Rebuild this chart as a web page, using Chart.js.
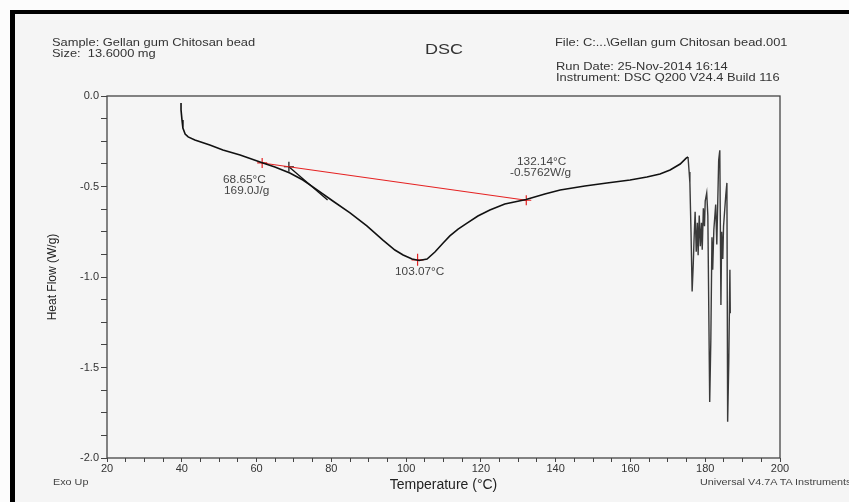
<!DOCTYPE html>
<html>
<head>
<meta charset="utf-8">
<script src="https://cdn.jsdelivr.net/npm/chart.js@4.4.1/dist/chart.umd.min.js"></script>
<style>
  html, body { margin: 0; padding: 0; background: #fcfcfc; }
  #wrap { position: relative; width: 849px; height: 502px; overflow: hidden;
          font-family: 'Liberation Sans', Arial, sans-serif; color: #333; }
  #frame { position: absolute; left: 10px; top: 10px; width: 900px; height: 560px;
           border-top: 4px solid #000; border-left: 5px solid #000; background: #f5f5f5; }
  #chart { position: absolute; left: 0; top: 0; }
  .t { position: absolute; white-space: nowrap; font-size: 11px; line-height: 11px;
       transform: scaleX(1.17); transform-origin: 0 0; }
  .s { font-size: 10px; line-height: 10px; color: #444; transform: scaleX(1.18); }
  .xs { font-size: 9px; line-height: 9px; color: #444; transform: scaleX(1.2); }
</style>
</head>
<body>
<div id="wrap">
  <div id="frame"></div>
  <canvas id="chart" width="849" height="502"></canvas>

  <div class="t" style="left:52px;top:37px">Sample: Gellan gum Chitosan bead</div>
  <div class="t" style="left:52px;top:48px">Size:&nbsp; 13.6000 mg</div>
  <div class="t" style="left:425px;top:41px;font-size:15px;line-height:15px;transform:scaleX(1.2)">DSC</div>
  <div class="t" style="left:555px;top:37px">File: C:...\Gellan gum Chitosan bead.001</div>
  <div class="t" style="left:556px;top:61px">Run Date: 25-Nov-2014 16:14</div>
  <div class="t" style="left:556px;top:72px">Instrument: DSC Q200 V24.4 Build 116</div>

  <div class="t s" style="left:223px;top:175px">68.65°C</div>
  <div class="t s" style="left:224px;top:186px">169.0J/g</div>
  <div class="t s" style="left:395px;top:267px">103.07°C</div>
  <div class="t s" style="left:517px;top:157px">132.14°C</div>
  <div class="t s" style="left:510px;top:168px">-0.5762W/g</div>

  <div class="t xs" style="left:53px;top:478px">Exo Up</div>
  <div class="t xs" style="left:700px;top:478px">Universal V4.7A TA Instruments</div>
</div>

<script>
/* ── fuente y colores base ───────────────────────────────── */
Chart.defaults.font.family = "'Liberation Sans', Arial, sans-serif";
Chart.defaults.font.size   = 11;
Chart.defaults.color       = '#333';

const TEMP = [39.8, 39.8, 40.06, 40.3, 40.9, 41.7, 43.5, 47.5, 51.0, 55.6, 61.7, 64.9, 68.9,
  72.4, 76.2, 80.4, 85.0, 89.5, 93.8, 97.0, 99.2, 101.6, 103.5, 105.6, 107.7, 109.9, 111.7,
  113.9, 116.3, 119.2, 122.4, 126.4, 132.1, 137.1, 141.2, 147.8, 153.7, 159.9, 164.4, 167.9,
  170.6, 173.3, 174.9, 175.4];
const HEAT = [-0.039, -0.077, -0.133, -0.177, -0.21, -0.226, -0.243, -0.271, -0.298, -0.326,
  -0.370, -0.392, -0.425, -0.464, -0.519, -0.580, -0.646, -0.718, -0.796, -0.851, -0.878,
  -0.901, -0.909, -0.901, -0.862, -0.812, -0.773, -0.735, -0.702, -0.663, -0.630, -0.597,
  -0.572, -0.541, -0.519, -0.497, -0.481, -0.464, -0.448, -0.431, -0.409, -0.376, -0.343, -0.337];

// zona de descomposición (ruido)
const NOISE_T = [175.4, 175.7, 175.9, 176.2, 176.5, 176.8, 177.0, 177.3, 177.6, 177.9, 178.1,
  178.4, 178.7, 179.0, 179.2, 179.5, 179.8, 180.0, 180.4, 180.7, 181.2, 181.5, 181.8, 182.0,
  182.3, 182.8, 183.1, 183.6, 183.9, 184.2, 184.4, 184.7, 184.9, 185.5, 185.8, 186.0, 186.3,
  186.6, 186.7];
const NOISE_H = [-0.337, -0.42, -0.48, -0.75, -1.08, -0.93, -0.80, -0.64, -0.86, -0.70, -0.88,
  -0.66, -0.83, -0.70, -0.85, -0.62, -0.72, -0.58, -0.536, -0.66, -1.69, -1.35, -0.78, -0.96,
  -0.74, -0.60, -0.82, -0.354, -0.30, -1.155, -0.75, -0.90, -0.72, -0.547, -0.48, -1.80, -1.47,
  -0.96, -1.20];

// línea base de integración y construcción del onset
const BASE_T    = [61.5, 132.14];
const BASE_H    = [-0.37, -0.576];
const PEAK_T    = [103.07];
const PEAK_H    = [-0.905];
const TANGENT_T = [68.65, 79.0];
const TANGENT_H = [-0.391, -0.575];

const pts = (xs, ys) => xs.map((x, i) => ({ x, y: ys[i] }));

/* ── marco del área de trazado ───────────────────────────── */
const plotBox = {
  id: 'plotBox',
  afterDraw(chart) {
    const { ctx, chartArea: a } = chart;
    ctx.save();
    ctx.strokeStyle = '#444';
    ctx.lineWidth = 1.3;
    ctx.strokeRect(a.left, a.top, a.right - a.left, a.bottom - a.top);
    ctx.restore();
  },
};

new Chart(document.getElementById('chart'), {
  type: 'line',
  data: {
    datasets: [
      { data: pts(TEMP, HEAT), borderColor: '#111', borderWidth: 1.6, pointRadius: 0 },
      { data: pts(NOISE_T, NOISE_H), borderColor: '#3a3a3a', borderWidth: 1.4, pointRadius: 0 },
      { data: pts(BASE_T, BASE_H), borderColor: '#e52222', borderWidth: 1.2,
        pointStyle: 'cross', pointRadius: 5, pointBorderColor: '#e52222', pointBorderWidth: 1.2 },
      { data: pts(PEAK_T, PEAK_H), showLine: false,
        pointStyle: 'cross', pointRadius: 6, pointBorderColor: '#e52222', pointBorderWidth: 1.2 },
      { data: pts(TANGENT_T, TANGENT_H), borderColor: '#111', borderWidth: 1.3,
        pointStyle: 'cross', pointRadius: [5, 0], pointBorderColor: '#111', pointBorderWidth: 1.2 },
    ],
  },
  options: {
    responsive: false, animation: false, devicePixelRatio: 1,
    layout: { padding: { top: 96, right: 69, bottom: 0, left: 0 } },
    plugins: { legend: { display: false }, tooltip: { enabled: false } },
    elements: { line: { tension: 0 } },
    scales: {
      x: {
        type: 'linear', min: 20, max: 200,
        afterFit: s => { s.height = 44; },
        border: { display: false },
        grid: { drawOnChartArea: false, drawTicks: true, tickLength: 4, color: '#444' },
        ticks: { stepSize: 5, padding: 0, maxRotation: 0, autoSkip: false,
                 callback: v => (v % 20 === 0 ? String(v) : '') },
        title: { display: true, text: 'Temperature (°C)', color: '#222',
                 font: { size: 14 }, padding: 8 },
      },
      y: {
        type: 'linear', min: -2, max: 0,
        afterFit: s => { s.width = 107; },
        border: { display: false },
        grid: { drawOnChartArea: false, drawTicks: true, tickLength: 6, color: '#444' },
        ticks: { stepSize: 0.125, padding: 2, autoSkip: false,
                 callback: v => (Math.abs(v * 2 - Math.round(v * 2)) < 1e-9 ? v.toFixed(1) : '') },
        title: { display: true, text: 'Heat Flow (W/g)', color: '#222',
                 font: { size: 12 }, padding: 45 },
      },
    },
  },
  plugins: [plotBox],
});
</script>
</body>
</html>
